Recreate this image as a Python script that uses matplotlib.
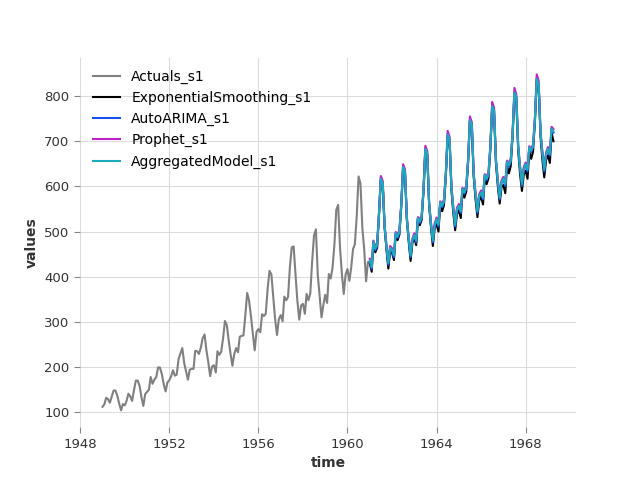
import numpy as np
import pandas as pd
import matplotlib
matplotlib.use('Agg')
import matplotlib.pyplot as plt

# monthly airline passengers, 1949-01 .. 1960-12
ACTUALS = [112, 118, 132, 129, 121, 135, 148, 148, 136, 119, 104, 118,
           115, 126, 141, 135, 125, 149, 170, 170, 158, 133, 114, 140,
           145, 150, 178, 163, 172, 178, 199, 199, 184, 162, 146, 166,
           171, 180, 193, 181, 183, 218, 230, 242, 209, 191, 172, 194,
           196, 196, 236, 235, 229, 243, 264, 272, 237, 211, 180, 201,
           204, 188, 235, 227, 234, 264, 302, 293, 259, 229, 203, 229,
           242, 233, 267, 269, 270, 315, 364, 347, 312, 274, 237, 278,
           284, 277, 317, 313, 318, 374, 413, 405, 355, 306, 271, 306,
           315, 301, 356, 348, 355, 422, 465, 467, 404, 347, 305, 336,
           340, 318, 362, 348, 363, 435, 491, 505, 404, 359, 310, 337,
           360, 342, 406, 396, 420, 472, 548, 559, 463, 407, 362, 405,
           417, 391, 419, 461, 472, 535, 622, 606, 508, 461, 390, 432]

# forecasts, 1961-01 .. 1969-04
ETS = [430, 411, 474, 454, 464, 537, 614, 603, 508, 461, 418, 458,
       453, 437, 493, 481, 493, 556, 640, 629, 525, 478, 435, 475,
       486, 470, 526, 514, 526, 589, 680, 669, 558, 511, 468, 508,
       517, 500, 559, 545, 558, 622, 711, 699, 591, 542, 503, 539,
       547, 530, 589, 575, 588, 652, 743, 731, 621, 572, 532, 569,
       577, 560, 619, 605, 618, 682, 774, 762, 651, 602, 562, 599,
       603, 585, 646, 629, 645, 711, 803, 790, 678, 628, 590, 626,
       635, 617, 678, 661, 677, 743, 833, 820, 710, 660, 620, 658,
       669, 652, 719, 700]
ARIMA = [434, 417, 478, 459, 468, 540, 619, 607, 512, 465, 426, 463,
         457, 443, 497, 486, 497, 559, 645, 633, 529, 482, 443, 480,
         490, 476, 530, 519, 530, 592, 685, 673, 562, 515, 476, 513,
         525, 511, 565, 554, 565, 627, 717, 705, 597, 550, 511, 548,
         555, 541, 595, 584, 595, 657, 749, 737, 627, 580, 541, 578,
         585, 571, 625, 614, 625, 687, 780, 768, 657, 610, 571, 608,
         615, 601, 655, 644, 655, 717, 810, 798, 687, 640, 601, 638,
         647, 633, 687, 676, 687, 749, 840, 828, 719, 672, 633, 670,
         681, 668, 728, 719]
PROPHET = [440, 426, 480, 467, 474, 543, 623, 612, 515, 471, 437, 468,
           463, 452, 499, 494, 503, 562, 649, 638, 532, 488, 454, 485,
           496, 485, 532, 527, 536, 595, 690, 678, 565, 521, 487, 518,
           531, 520, 567, 562, 571, 630, 723, 710, 600, 556, 522, 553,
           561, 550, 597, 592, 601, 660, 755, 742, 630, 586, 552, 583,
           591, 580, 627, 622, 631, 690, 787, 774, 660, 616, 582, 613,
           621, 610, 657, 652, 661, 720, 818, 804, 690, 646, 612, 643,
           653, 642, 689, 684, 693, 752, 848, 834, 722, 678, 644, 675,
           687, 677, 732, 727]
AGG = [436, 421, 478, 462, 470, 540, 617, 607, 512, 467, 430, 464,
       459, 447, 497, 489, 499, 559, 643, 633, 529, 484, 447, 481,
       492, 480, 530, 522, 532, 592, 683, 673, 562, 517, 480, 514,
       527, 515, 565, 557, 567, 627, 715, 705, 597, 552, 515, 549,
       557, 545, 595, 587, 597, 657, 747, 737, 627, 582, 545, 579,
       587, 575, 625, 617, 627, 687, 778, 768, 657, 612, 575, 609,
       617, 605, 655, 647, 657, 717, 808, 798, 687, 642, 605, 639,
       649, 637, 687, 679, 689, 749, 838, 828, 719, 674, 637, 671,
       683, 672, 728, 722]

t_act = pd.date_range('1949-01-01', periods=len(ACTUALS), freq='MS')
t_fc = pd.date_range('1961-01-01', periods=len(AGG), freq='MS')

series = [('Actuals_s1', t_act, ACTUALS, '#808080'),
          ('ExponentialSmoothing_s1', t_fc, ETS, '#000000'),
          ('AutoARIMA_s1', t_fc, ARIMA, '#1a4ff0'),
          ('Prophet_s1', t_fc, PROPHET, '#c020c8'),
          ('AggregatedModel_s1', t_fc, AGG, '#1aacbc')]

TICKFONT = ['Liberation Sans Narrow', 'DejaVu Sans Condensed', 'DejaVu Sans']

fig, ax = plt.subplots(figsize=(6.4, 4.8), dpi=100)
for name, t, v, c in series:
    ax.plot(t, v, color=c, lw=1.5, label=name)

ax.grid(True, color='#dcdcdc', lw=0.8)
ax.set_axisbelow(True)
for s in ax.spines.values():
    s.set_visible(False)
ax.tick_params(colors='#888888', labelcolor='#333333', length=4, width=0.8)
for lab in ax.get_xticklabels() + ax.get_yticklabels():
    lab.set_family(TICKFONT)
    lab.set_fontsize(9.5)
ax.set_xlabel('time', fontsize=10, fontweight='bold', color='#333333')
ax.set_ylabel('values', fontsize=10, fontweight='bold', color='#333333')
ax.legend(loc='upper left', frameon=False, fontsize=10)
plt.savefig('out.png', dpi=100)
